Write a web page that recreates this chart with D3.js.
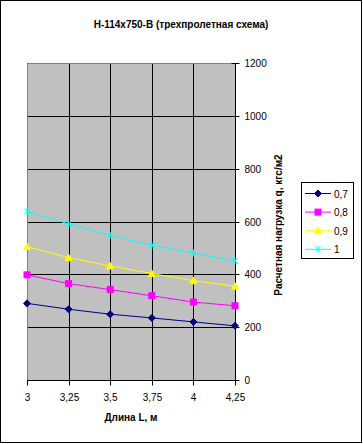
<!DOCTYPE html>
<html><head><meta charset="utf-8">
<script src="https://cdn.jsdelivr.net/npm/d3@7"></script>
<style>body{margin:0;background:#fff}svg{display:block;font-family:"Liberation Sans",Arial,sans-serif}</style>
</head><body>
<script>
const lengths = [3, 3.25, 3.5, 3.75, 4, 4.25];
const xTickLabels = ["3", "3,25", "3,5", "3,75", "4", "4,25"];
const seriesNames = ["0,7", "0,8", "0,9", "1"];
const s07 = [290, 268, 249, 235, 220, 205];
const s08 = [398, 365, 342, 319, 295, 281];
const s09 = [505, 463, 432, 403, 376, 355];
const s10 = [638, 591, 548, 510, 481, 451];
const yTicks = [0, 200, 400, 600, 800, 1000, 1200];

const colors = ["#000080", "#FF00FF", "#FFFF00", "#00FFFF"];
const markers = ["diamond", "square", "triangle", "star"];
const seriesValues = [s07, s08, s09, s10];

const W = 363, H = 444;
const svg = d3.select("body").append("svg").attr("width", W).attr("height", H);
svg.append("rect").attr("x", 0.5).attr("y", 0.5).attr("width", 361).attr("height", 442)
  .attr("fill", "#fff").attr("stroke", "#000");

const L = 27, R = 235, T = 63, B = 380;
const x = d3.scalePoint().domain(lengths).range([L, R]);
const y = d3.scaleLinear().domain([0, 1200]).range([B, T]);

svg.append("rect").attr("x", L).attr("y", T).attr("width", R - L).attr("height", B - T)
  .attr("fill", "#C0C0C0");

// gridlines
svg.append("g").selectAll("line").data(yTicks.filter(d => d > 0)).join("line")
  .attr("x1", L).attr("x2", R).attr("y1", d => Math.round(y(d)) + 0.5).attr("y2", d => Math.round(y(d)) + 0.5)
  .attr("stroke", "#000");
svg.append("g").selectAll("line").data(lengths.slice(1, -1)).join("line")
  .attr("y1", T).attr("y2", B).attr("x1", d => Math.round(x(d)) + 0.5).attr("x2", d => Math.round(x(d)) + 0.5)
  .attr("stroke", "#000");
// plot border (gray)
svg.append("path").attr("d", `M${L + 0.5},${B}V${T + 0.5}H${R}`).attr("fill", "none").attr("stroke", "#808080");

// Y axis (right)
const yAxis = svg.append("g").attr("transform", `translate(${R + 0.5},0)`)
  .call(d3.axisRight(y).tickValues(yTicks).tickSize(4).tickPadding(6).tickFormat(d3.format("d")));
yAxis.select(".domain").attr("stroke", "#000").attr("d", `M0,${T}V${B}`);
yAxis.selectAll(".tick line").attr("x1", -4).attr("x2", 4);
yAxis.selectAll(".tick").attr("transform", d => `translate(0,${Math.round(y(d)) + 0.5})`);
yAxis.selectAll("text").attr("font-size", 10).attr("font-family", "Liberation Sans, Arial").attr("fill", "#000").attr("x", 9);

// X axis (bottom)
const xAxis = svg.append("g").attr("transform", `translate(0,${B + 0.5})`)
  .call(d3.axisBottom(x).tickSize(5).tickPadding(8).tickFormat((d, i) => xTickLabels[i]));
xAxis.select(".domain").attr("stroke", "#000").attr("d", `M${L},0H${R}`);
xAxis.selectAll(".tick").attr("transform", d => `translate(${Math.round(x(d)) + 0.5},0)`);
xAxis.selectAll("text").attr("font-size", 10).attr("font-family", "Liberation Sans, Arial").attr("fill", "#000");

// series
const line = d3.line().x((d, i) => x(lengths[i])).y(d => y(d));
function drawMarker(g, type, color) {
  if (type === "diamond") {
    g.append("path").attr("d", "M0,-3.5L3.5,0L0,3.5L-3.5,0Z").attr("fill", color).attr("stroke", color);
  } else if (type === "square") {
    g.append("rect").attr("x", -3).attr("y", -3).attr("width", 6).attr("height", 6).attr("fill", color).attr("stroke", color);
  } else if (type === "triangle") {
    g.append("path").attr("d", "M0,-3.5L3.5,3L-3.5,3Z").attr("fill", color).attr("stroke", color);
  } else {
    g.append("path").attr("d", "M-3,-3L3,3M-3,3L3,-3M0,-3.5V3.5").attr("fill", "none").attr("stroke", color);
  }
}
seriesValues.forEach((vals, si) => {
  svg.append("path").datum(vals).attr("d", line).attr("fill", "none").attr("stroke", colors[si]).attr("stroke-width", 1);
  vals.forEach((v, i) => {
    const g = svg.append("g").attr("transform", `translate(${x(lengths[i])},${y(v)})`);
    drawMarker(g, markers[si], colors[si]);
  });
});

// titles
svg.append("text").attr("x", 181).attr("y", 28).attr("text-anchor", "middle")
  .attr("font-size", 10).attr("font-weight", "bold").text("Н-114х750-В (трехпролетная схема)");
svg.append("text").attr("x", 131).attr("y", 421).attr("text-anchor", "middle")
  .attr("font-size", 10).attr("font-weight", "bold").text("Длина L, м");
svg.append("text").attr("transform", "translate(282,225) rotate(-90)").attr("text-anchor", "middle")
  .attr("font-size", 10).attr("font-weight", "bold").text("Расчетная нагрузка q, кгс/м2");

// legend
const lg = svg.append("g");
lg.append("rect").attr("x", 301.5).attr("y", 182.5).attr("width", 52).attr("height", 76)
  .attr("fill", "#fff").attr("stroke", "#000");
seriesNames.forEach((name, i) => {
  const yy = 193.5 + i * 18.6;
  lg.append("line").attr("x1", 305).attr("x2", 331).attr("y1", yy).attr("y2", yy).attr("stroke", colors[i]);
  const g = lg.append("g").attr("transform", `translate(318,${yy})`);
  drawMarker(g, markers[i], colors[i]);
  lg.append("text").attr("x", 334).attr("y", yy + 4).attr("font-size", 10).text(name);
});
</script>
</body></html>
